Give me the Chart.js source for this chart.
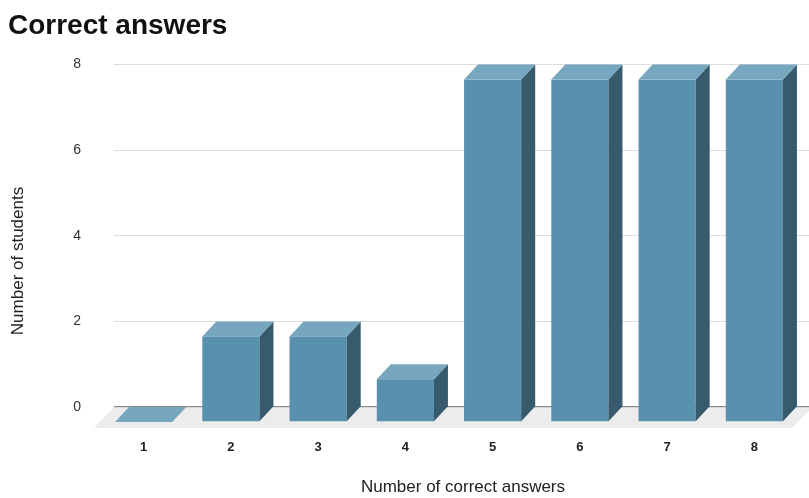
<!DOCTYPE html>
<html>
<head>
<meta charset="utf-8">
<script src="https://cdn.jsdelivr.net/npm/chart.js@4/dist/chart.umd.min.js"></script>
<style>
    html, body { margin: 0; padding: 0; background: #fff; overflow: hidden; }
    #wrap { width: 812px; height: 498px; }
</style>
</head>
<body>
<div id="wrap"><canvas id="chart"></canvas></div>
<script>
const categories = ["1", "2", "3", "4", "5", "6", "7", "8"];
const students = [0, 2, 2, 1, 8, 8, 8, 8];
const yTicks = [0, 2, 4, 6, 8];

const FONT = "'Liberation Sans', Arial, sans-serif";
const DX = 14;   // depth of the 3d boxes
const DY = 15;

// fake 3d : floor + boxes drawn from the bar elements
const box3d = {
    id: 'box3d',
    beforeDatasetsDraw(chart) {
        const ctx = chart.ctx;
        const a = chart.chartArea;
        ctx.save();
        ctx.fillStyle = '#ececec';
        ctx.beginPath();
        ctx.moveTo(a.left, a.bottom + 0.5);
        ctx.lineTo(a.right, a.bottom + 0.5);
        ctx.lineTo(a.right - 20, a.bottom + 21);
        ctx.lineTo(a.left - 20, a.bottom + 21);
        ctx.closePath();
        ctx.fill();
        ctx.restore();
    },
    afterDatasetsDraw(chart) {
        const ctx = chart.ctx;
        const meta = chart.getDatasetMeta(0);
        ctx.save();
        meta.data.forEach(bar => {
            const w = bar.width;
            const fl = bar.x - DX - w / 2, fr = bar.x - DX + w / 2;
            const ft = bar.y + DY, fb = bar.base + DY;
            // front
            ctx.fillStyle = '#5890ae';
            ctx.fillRect(fl, ft, w, fb - ft);
            // side
            ctx.fillStyle = '#375a6d';
            ctx.beginPath();
            ctx.moveTo(fr, ft);
            ctx.lineTo(fr + DX, ft - DY);
            ctx.lineTo(fr + DX, fb - DY);
            ctx.lineTo(fr, fb);
            ctx.closePath();
            ctx.fill();
            // top
            ctx.fillStyle = '#77a6bf';
            ctx.beginPath();
            ctx.moveTo(fl, ft);
            ctx.lineTo(fl + DX, ft - DY);
            ctx.lineTo(fr + DX, ft - DY);
            ctx.lineTo(fr, ft);
            ctx.closePath();
            ctx.fill();
        });
        ctx.restore();
    },
    afterDraw(chart) {
        const ctx = chart.ctx;
        ctx.save();
        ctx.translate(18, 261);
        ctx.rotate(-Math.PI / 2);
        ctx.font = "17px " + FONT;
        ctx.fillStyle = '#222';
        ctx.textAlign = 'center';
        ctx.textBaseline = 'middle';
        ctx.fillText('Number of students', 0, 0);
        ctx.restore();
    }
};

new Chart(document.getElementById('chart'), {
    type: 'bar',
    data: {
        labels: categories,
        datasets: [{
            label: 'Number of students',
            data: students,
            backgroundColor: 'rgba(0,0,0,0)',
            categoryPercentage: 1,
            barPercentage: 0.655
        }]
    },
    options: {
        responsive: true,
        maintainAspectRatio: false,
        animation: false,
        layout: { padding: { left: 8, right: 0, top: 0, bottom: 0 } },
        plugins: {
            legend: { display: false },
            tooltip: { enabled: false },
            title: {
                display: true,
                text: 'Correct answers',
                align: 'start',
                color: '#111',
                font: { family: FONT, size: 28, weight: 'bold' },
                padding: { top: 9, bottom: 22 }
            }
        },
        scales: {
            x: {
                grid: { display: false, drawTicks: false },
                border: { display: false },
                ticks: {
                    labelOffset: -DX,
                    padding: 33,
                    color: '#222',
                    font: { family: FONT, size: 13, weight: 'bold' }
                },
                title: {
                    display: true,
                    text: 'Number of correct answers',
                    color: '#222',
                    font: { family: FONT, size: 17 },
                    padding: { top: 4, bottom: 0 }
                },
                afterFit: (s) => { s.height = 91; }
            },
            y: {
                min: 0,
                max: 8,
                afterBuildTicks: (s) => { s.ticks = yTicks.map(v => ({ value: v })); },
                grid: {
                    drawTicks: false,
                    color: (c) => c.tick && c.tick.value === 0 ? '#8a8a8a' : '#dcdcdc',
                    lineWidth: (c) => c.tick && c.tick.value === 0 ? 1.5 : 1
                },
                border: { display: false },
                ticks: {
                    padding: 33,
                    color: '#333',
                    font: { family: FONT, size: 14 }
                },
                afterFit: (s) => { s.width = 106; }
            }
        }
    },
    plugins: [box3d]
});
</script>
</body>
</html>
